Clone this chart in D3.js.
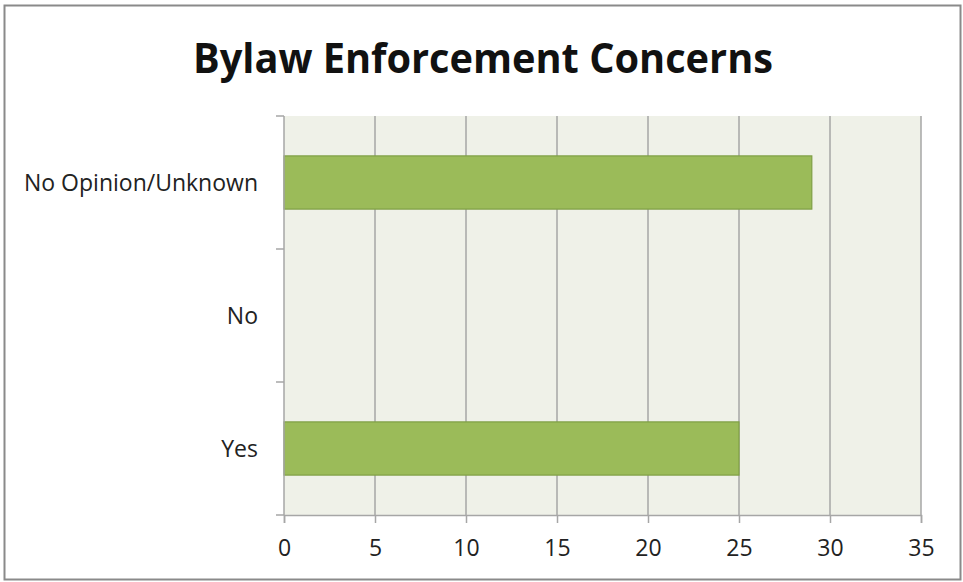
<!DOCTYPE html>
<html>
<head>
<meta charset="utf-8">
<script src="https://cdn.jsdelivr.net/npm/d3@7"></script>
<style>
  html, body { margin: 0; padding: 0; background: #fff; }
  svg { display: block; }
</style>
</head>
<body>
<svg id="chart" width="963" height="582"></svg>
<script>
// Survey responses on bylaw enforcement
const categories = ["No Opinion/Unknown", "No", "Yes"];
const counts = [29, 0, 25];
const xTicks = [0, 5, 10, 15, 20, 25, 30, 35];
const chartTitle = "Bylaw Enforcement Concerns";

const W = 963, H = 582;
const margin = { top: 116, right: 42, bottom: 67, left: 284 };
const svg = d3.select("#chart");
const labelFont = "'Open Sans', 'DejaVu Sans', sans-serif";

// outer frame
svg.append("rect")
  .attr("x", 4.5).attr("y", 5.5)
  .attr("width", 956).attr("height", 574)
  .attr("fill", "#fff")
  .attr("stroke", "#8a8a8a").attr("stroke-width", 2);

const x = d3.scaleLinear().domain([0, 35]).range([margin.left, W - margin.right]);
const y = d3.scaleBand().domain(categories).range([margin.top, H - margin.bottom]).paddingInner(0.6).paddingOuter(0.3);

// plot background
svg.append("rect")
  .attr("x", x(0)).attr("y", margin.top)
  .attr("width", x(35) - x(0)).attr("height", H - margin.bottom - margin.top)
  .attr("fill", "#eff1e8");

// vertical gridlines
svg.append("g")
  .selectAll("line")
  .data(xTicks.slice(1))
  .join("line")
  .attr("x1", d => x(d)).attr("x2", d => x(d))
  .attr("y1", margin.top).attr("y2", H - margin.bottom)
  .attr("stroke", "#a6a6a6").attr("stroke-width", 1.5);

// bars
svg.append("g")
  .selectAll("rect")
  .data(categories.map((c, i) => ({ c, v: counts[i] })).filter(d => d.v > 0))
  .join("rect")
  .attr("x", x(0))
  .attr("y", d => y(d.c))
  .attr("width", d => x(d.v) - x(0))
  .attr("height", y.bandwidth())
  .attr("fill", "#9bbb59")
  .attr("stroke", "#7f9f45").attr("stroke-width", 1.2);

// x axis
const xAxis = svg.append("g")
  .attr("transform", `translate(0,${H - margin.bottom})`)
  .call(d3.axisBottom(x).tickValues(xTicks).tickSize(8).tickPadding(17).tickFormat(d3.format("d")));
xAxis.select(".domain").attr("stroke", "#a6a6a6").attr("stroke-width", 1.5);
xAxis.selectAll(".tick line").attr("stroke", "#a6a6a6").attr("stroke-width", 1.5);
xAxis.selectAll("text")
  .attr("font-family", labelFont)
  .attr("font-size", 23).attr("fill", "#222");

// y axis: tick marks at the category boundaries
const yAxis = svg.append("g").attr("transform", `translate(${x(0)},0)`);
const plotH = H - margin.bottom - margin.top;
const bounds = d3.range(categories.length + 1).map(i => margin.top + i * plotH / categories.length);
yAxis.append("line")
  .attr("x1", 0).attr("x2", 0)
  .attr("y1", margin.top).attr("y2", H - margin.bottom)
  .attr("stroke", "#a6a6a6").attr("stroke-width", 1.5);
yAxis.selectAll("line.tk")
  .data(bounds)
  .join("line").attr("class", "tk")
  .attr("x1", -8).attr("x2", 0)
  .attr("y1", d => d).attr("y2", d => d)
  .attr("stroke", "#a6a6a6").attr("stroke-width", 1.5);
yAxis.selectAll("text")
  .data(categories)
  .join("text")
  .attr("x", -26)
  .attr("y", d => y(d) + y.bandwidth() / 2)
  .attr("dy", "0.35em")
  .attr("text-anchor", "end")
  .attr("font-family", labelFont)
  .attr("font-size", 23).attr("fill", "#222")
  .text(d => d);

// title
svg.append("text")
  .attr("x", 483).attr("y", 73)
  .attr("text-anchor", "middle")
  .attr("font-family", "'Open Sans', 'Liberation Sans', sans-serif")
  .attr("font-weight", "bold")
  .attr("font-size", 42)
  .attr("textLength", 580)
  .attr("lengthAdjust", "spacingAndGlyphs")
  .attr("fill", "#111")
  .text(chartTitle);
</script>
</body>
</html>
